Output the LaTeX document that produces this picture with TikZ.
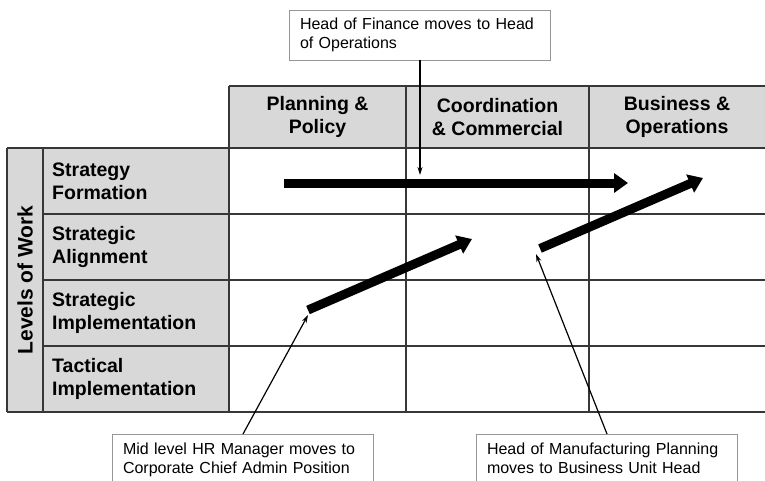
\documentclass[tikz,border=0pt]{standalone}
\usepackage{fontspec}
\setmainfont{Liberation Sans}
\usetikzlibrary{arrows.meta}
\definecolor{cellgray}{RGB}{216,216,216}
\definecolor{gridline}{RGB}{55,55,55}
\definecolor{boxline}{RGB}{150,150,150}
\begin{document}
\begin{tikzpicture}[x=1pt,y=-1pt,
  gridrule/.style={draw=gridline,line width=1.4pt},
  headtext/.style={font=\fontsize{19.5}{23}\selectfont\bfseries,align=center,inner sep=0pt},
  rowtext/.style={font=\fontsize{19.5}{23}\selectfont\bfseries,align=left,anchor=west,inner sep=0pt},
  callout/.style={draw=boxline,line width=0.9pt,fill=white,minimum width=261pt,
    text width=240pt,align=left,font=\fontsize{16}{19.5}\selectfont,inner xsep=10.5pt},
  move/.style={line width=9pt,-{Triangle[length=14pt,width=19pt]}},
  pointer/.style={line width=1.2pt,-{Stealth[length=8pt,width=5pt]}}]

\useasboundingbox (0,0) rectangle (765,480);
\clip (0,0) rectangle (765,480);

% shaded header row and label columns
\fill[cellgray] (229,86) rectangle (765,148);
\fill[cellgray] (7,148) rectangle (229,412);

% table rules
\draw[gridrule] (229,86) -- (765,86);
\draw[gridrule] (7,148) -- (765,148);
\draw[gridrule] (43,214) -- (765,214);
\draw[gridrule] (43,280) -- (765,280);
\draw[gridrule] (43,346) -- (765,346);
\draw[gridrule] (7,412) -- (765,412);
\draw[gridrule] (7,148) -- (7,412);
\draw[gridrule] (43,148) -- (43,412);
\draw[gridrule] (229,86) -- (229,412);
\draw[gridrule] (406,86) -- (406,412);
\draw[gridrule] (589,86) -- (589,412);

% column headings
\node[headtext] (colPlan) at (317.5,117) {Planning \&\\Policy};
\node[headtext] (colCoord) at (497.5,117) {Coordination\\\& Commercial};
\node[headtext] (colBus) at (677,117) {Business \&\\Operations};

% row headings
\node[headtext,rotate=90,font=\fontsize{21}{24}\selectfont\bfseries] (levels) at (25,280) {Levels of Work};
\node[rowtext] (rowSF) at (52,181) {Strategy\\Formation};
\node[rowtext] (rowSA) at (52,247) {Strategic\\Alignment};
\node[rowtext] (rowSI) at (52,313) {Strategic\\Implementation};
\node[rowtext] (rowTI) at (52,379) {Tactical\\Implementation};

% career moves
\coordinate (fmStart) at (284,183);
\coordinate (fmEnd) at (628,183);
\coordinate (hrStart) at (308,310);
\coordinate (hrEnd) at (472,239);
\coordinate (mpStart) at (540,248.5);
\coordinate (mpEnd) at (703,178);
\draw[move] (fmStart) -- (fmEnd);
\draw[move] (hrStart) -- (hrEnd);
\draw[move] (mpStart) -- (mpEnd);

% callouts
\node[callout,minimum height=50pt] (finNote) at (420,35)
  {Head of Finance moves to Head\\of Operations};
\node[callout,anchor=north,inner ysep=8pt] (hrNote) at (243,434)
  {Mid level HR Manager moves to\\Corporate Chief Admin Position};
\node[callout,anchor=north,inner ysep=8pt] (mpNote) at (607,434)
  {Head of Manufacturing Planning\\moves to Business Unit Head};

\coordinate (finTip) at (420,175);
\coordinate (hrTip) at (308,315);
\coordinate (mpTip) at (536,254);
\draw[pointer] (finNote.south) -- (finTip);
\draw[pointer] (hrNote.north) -- (hrTip);
\draw[pointer] (mpNote.north) -- (mpTip);
\end{tikzpicture}
\end{document}
